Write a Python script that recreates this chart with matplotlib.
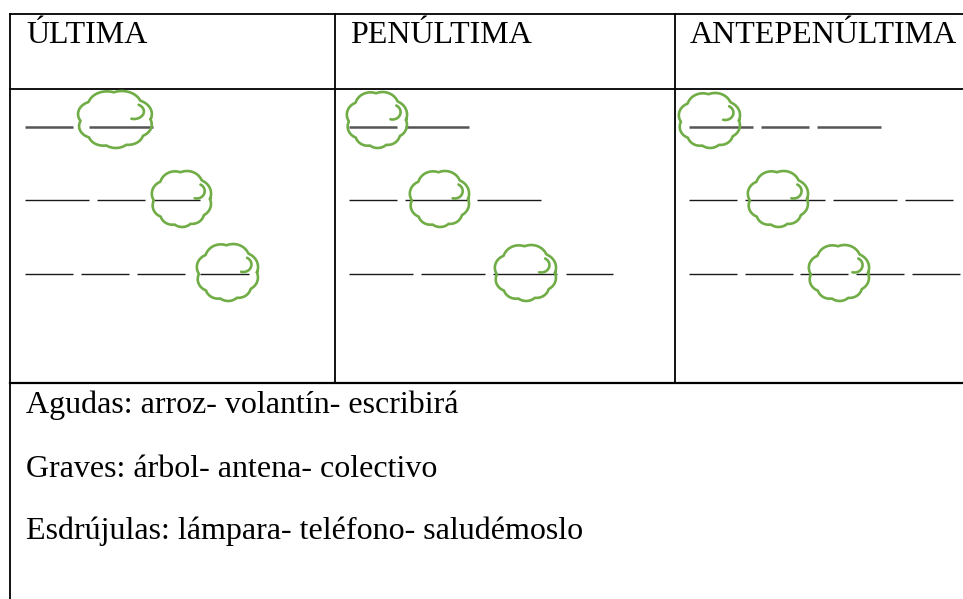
"""
Tabla de sílabas: última, penúltima y antepenúltima, con nubes marcando la sílaba tónica
"""
import numpy as np
import matplotlib.pyplot as plt

W, H = 963, 599

HEADERS = ['ÚLTIMA', 'PENÚLTIMA', 'ANTEPENÚLTIMA']
HEADER_X = [26, 350, 690]

EXAMPLES = ['Agudas: arroz- volantín- escribirá',
            'Graves: árbol- antena- colectivo',
            'Esdrújulas: lámpara- teléfono- saludémoslo']
EXAMPLE_Y = [413, 477, 539]

ROW_Y = [127, 200, 274]

# blank spans (x0, x1) per column, per row
BLANKS_ULTIMA = [[(25, 73), (89, 153)],
                 [(25, 89), (97, 145), (152, 200)],
                 [(25, 73), (81, 129), (137, 185), (200, 249)]]
BLANKS_PENULTIMA = [[(349, 397), (405, 469)],
                    [(349, 397), (405, 469), (477, 541)],
                    [(349, 413), (421, 485), (493, 557), (566, 613)]]
BLANKS_ANTE = [[(689, 753), (761, 809), (817, 881)],
               [(689, 737), (745, 825), (833, 897), (905, 953)],
               [(689, 737), (745, 793), (800, 848), (856, 904), (912, 960)]]

# cloud boxes (x0, x1, y0, y1) per column, per row
CLOUDS_ULTIMA = [(77, 153, 90, 148), (151, 212, 170, 227), (196, 259, 243, 301)]
CLOUDS_PENULTIMA = [(346, 408, 91, 148), (409, 470, 170, 227), (494, 557, 244, 301)]
CLOUDS_ANTE = [(678, 741, 92, 148), (747, 809, 170, 227), (808, 870, 244, 301)]

GREEN = '#70AD47'
SERIF = ['Liberation Serif', 'DejaVu Serif']

# bumps of the cloud outline: (angle in degrees, radius) in unit coords
BUMPS = [(20, 0.50), (68, 0.52), (115, 0.50), (162, 0.45), (205, 0.42),
         (240, 0.40), (272, 0.40), (305, 0.40), (340, 0.45)]


def cloud_outline(x0, x1, y0, y1, n=500):
    """Scalloped outline as the outer boundary of a ring of circles"""
    theta = np.linspace(0, 2 * np.pi, n)
    dx, dy = np.cos(theta), np.sin(theta)
    t = np.zeros(n)
    for ang, r in BUMPS:
        a = np.radians(ang)
        px, py = (1 - r) * np.cos(a), (1 - r) * np.sin(a)
        dp = dx * px + dy * py
        disc = dp ** 2 - (px ** 2 + py ** 2) + r ** 2
        tk = np.where(disc >= 0, dp + np.sqrt(np.clip(disc, 0, None)), 0)
        t = np.maximum(t, tk)
    cx, cy = (x0 + x1) / 2, (y0 + y1) / 2
    a, b = (x1 - x0) / 2, (y1 - y0) / 2
    return cx + t * dx * a, cy - t * dy * b


def cloud_hook(x0, x1, y0, y1):
    """Inner arc near the top right of the cloud"""
    ang = np.radians(np.linspace(62, -105, 60))
    ux, uy = 0.5 + 0.26 * np.cos(ang), 0.26 + 0.26 * np.sin(ang)
    cx, cy = (x0 + x1) / 2, (y0 + y1) / 2
    a, b = (x1 - x0) / 2, (y1 - y0) / 2
    return cx + ux * a, cy - uy * b


fig = plt.figure(figsize=(W / 100, H / 100), dpi=100)
ax = fig.add_axes([0, 0, 1, 1])
ax.set_xlim(0, W)
ax.set_ylim(H, 0)
ax.axis('off')

# table borders
lw = 1.3
ax.plot([10, W], [14, 14], color='black', lw=lw)
ax.plot([10, W], [89, 89], color='black', lw=lw)
ax.plot([10, W], [383, 383], color='black', lw=1.6)
ax.plot([10, 10], [14, H], color='black', lw=lw)
ax.plot([335, 335], [14, 383], color='black', lw=lw)
ax.plot([675, 675], [14, 383], color='black', lw=lw)

for txt, x in zip(HEADERS, HEADER_X):
    ax.text(x, 43, txt, fontsize=23, family=SERIF, va='baseline', ha='left')

for txt, y in zip(EXAMPLES, EXAMPLE_Y):
    ax.text(26, y, txt, fontsize=23, family=SERIF, va='baseline', ha='left')

for blanks, clouds in [(BLANKS_ULTIMA, CLOUDS_ULTIMA),
                       (BLANKS_PENULTIMA, CLOUDS_PENULTIMA),
                       (BLANKS_ANTE, CLOUDS_ANTE)]:
    for i, (row, box) in enumerate(zip(blanks, clouds)):
        y = ROW_Y[i]
        col = '#555555' if i == 0 else '#1a1a1a'
        lwd = 1.8 if i == 0 else 1.0
        for x0, x1 in row:
            ax.plot([x0, x1], [y, y], color=col, lw=lwd, solid_capstyle='butt')
        xs, ys = cloud_outline(*box)
        ax.plot(xs, ys, color=GREEN, lw=1.9)
        hx, hy = cloud_hook(*box)
        ax.plot(hx, hy, color=GREEN, lw=1.9, solid_capstyle='round')

fig.savefig('out.png', dpi=100)
